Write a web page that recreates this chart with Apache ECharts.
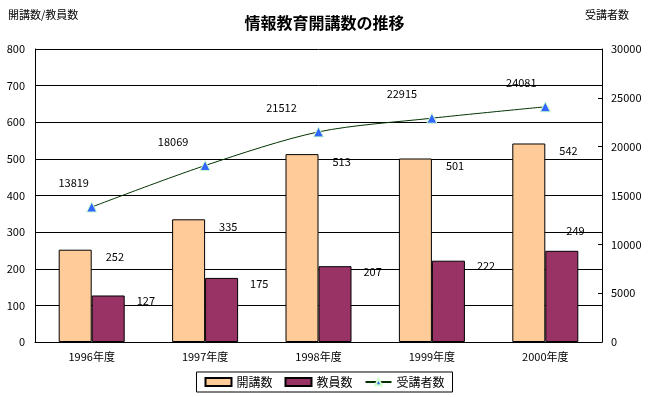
<!DOCTYPE html>
<html>
<head>
<meta charset="utf-8">
<script src="https://cdn.jsdelivr.net/npm/echarts@6/dist/echarts.min.js"></script>
<style>
  html, body { margin: 0; padding: 0; background: #fff; }
  #chart { width: 649px; height: 397px; }
</style>
</head>
<body>
<div id="chart"></div>
<script>
// データ
const years = ['1996年度', '1997年度', '1998年度', '1999年度', '2000年度']
const courses = [252, 335, 513, 501, 542]     // 開講数
const teachers = [127, 175, 207, 222, 249]    // 教員数
const students = [13819, 18069, 21512, 22915, 24081] // 受講者数
const leftTicks = [0, 800, 100]
const rightTicks = [0, 30000, 5000]

// ラベル位置の微調整（Excel風）
const lineLabelShiftX = [-18, -32, -37, -30, -24]

const font = '"Noto Sans CJK JP", sans-serif'
const myChart = echarts.init(document.getElementById('chart'))

const teacherData = teachers.map((v, i) => {
  if (i === teachers.length - 1) {
    // 最後のラベルは棒の上に寄せる
    return { value: v, label: { offset: [-12, -25] } }
  }
  return v
})

const studentData = students.map((v, i) => ({
  value: v,
  label: { offset: [lineLabelShiftX[i], -8] }
}))

const option = {
  animation: false,
  textStyle: { fontFamily: font, color: '#000' },
  title: {
    text: '情報教育開講数の推移',
    left: 'center',
    top: 10,
    textStyle: { fontSize: 16, fontWeight: 'bold', color: '#000', fontFamily: font }
  },
  graphic: [
    { type: 'text', left: 8, top: 9, style: { text: '開講数/教員数', fill: '#000', font: '11px ' + font } },
    { type: 'text', right: 20, top: 9, style: { text: '受講者数', fill: '#000', font: '11px ' + font } }
  ],
  legend: {
    bottom: 5,
    left: 'center',
    itemWidth: 26,
    itemHeight: 8,
    itemGap: 12,
    padding: [4, 8],
    borderColor: '#000',
    borderWidth: 1,
    textStyle: { fontSize: 12, fontFamily: font, color: '#000' },
    data: [
      { name: '開講数', icon: 'rect' },
      { name: '教員数', icon: 'rect' },
      { name: '受講者数' }
    ]
  },
  grid: { left: 35, right: 47, top: 49, bottom: 55 },
  xAxis: {
    type: 'category',
    data: years,
    axisLine: { lineStyle: { color: '#000' } },
    axisTick: { inside: true, length: 4, lineStyle: { color: '#000' } },
    axisLabel: { fontSize: 11, color: '#000', margin: 9, fontFamily: font }
  },
  yAxis: [
    {
      type: 'value',
      min: leftTicks[0], max: leftTicks[1], interval: leftTicks[2],
      axisLine: { show: true, lineStyle: { color: '#000' } },
      axisTick: { show: false },
      axisLabel: { fontSize: 11, color: '#000', margin: 10, fontFamily: font },
      splitLine: { lineStyle: { color: '#000' } }
    },
    {
      type: 'value',
      min: rightTicks[0], max: rightTicks[1], interval: rightTicks[2],
      axisLine: { show: true, lineStyle: { color: '#000' } },
      axisTick: { show: true, inside: true, length: 4, lineStyle: { color: '#000' } },
      axisLabel: { fontSize: 11, color: '#000', margin: 9, fontFamily: font, formatter: v => String(v) },
      splitLine: { show: false }
    }
  ],
  series: [
    {
      name: '開講数',
      type: 'bar',
      data: courses,
      barWidth: 33,
      barGap: '0%',
      itemStyle: { color: '#FFCC99', borderColor: '#000', borderWidth: 1 },
      label: {
        show: true, position: ['100%', 0], offset: [14, 2], verticalAlign: 'top',
        fontSize: 11, color: '#000', fontFamily: font
      }
    },
    {
      name: '教員数',
      type: 'bar',
      data: teacherData,
      barWidth: 33,
      barGap: '0%',
      itemStyle: { color: '#993366', borderColor: '#000', borderWidth: 1 },
      label: {
        show: true, position: ['100%', 0], offset: [12, 0], verticalAlign: 'top',
        fontSize: 11, color: '#000', fontFamily: font
      }
    },
    {
      name: '受講者数',
      type: 'line',
      yAxisIndex: 1,
      data: studentData,
      smooth: 0.3,
      symbol: 'triangle',
      symbolSize: 10,
      lineStyle: { color: '#003300', width: 1 },
      itemStyle: { color: '#3366FF', borderColor: '#CCFFCC', borderWidth: 1 },
      label: {
        show: true, position: 'top',
        fontSize: 11, color: '#000', fontFamily: font
      }
    }
  ]
}

myChart.setOption(option)
</script>
</body>
</html>
